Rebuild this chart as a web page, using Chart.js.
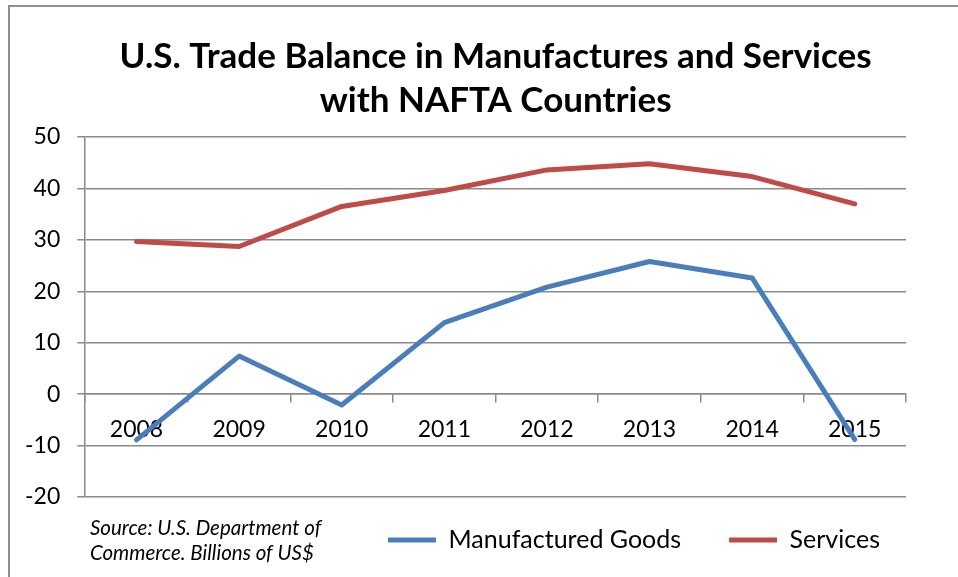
<!DOCTYPE html>
<html>
<head>
<meta charset="utf-8">
<script src="https://cdn.jsdelivr.net/npm/chart.js@4"></script>
<style>
  html, body { margin: 0; padding: 0; background: #fff; overflow: hidden; }
  #marco { position: absolute; left: 8px; top: 5px; width: 1200px; height: 800px;
           border-top: 2px solid #8f8f8f; border-left: 2px solid #8f8f8f; }
  #grafica { position: absolute; left: 0; top: 0; }
</style>
</head>
<body>
<div id="marco"></div>
<canvas id="grafica" width="958" height="577"></canvas>
<script>
// datos (miles de millones de US$)
const years = ['2008', '2009', '2010', '2011', '2012', '2013', '2014', '2015'];
const manufacturedGoods = [-8.9, 7.4, -2.1, 13.9, 20.8, 25.8, 22.6, -8.8];
const services = [29.7, 28.7, 36.5, 39.6, 43.6, 44.8, 42.3, 37.0];
const yTicks = [-20, -10, 0, 10, 20, 30, 40, 50];
const titleLines = ['U.S. Trade Balance in Manufactures and Services', 'with NAFTA Countries'];
const sourceLines = ['Source: U.S. Department of', 'Commerce. Billions of US$'];

const AZUL = '#4a7ebb';
const ROJO = '#be4b48';
const GRIS = '#8a8a8a';
const FUENTE = 'Lato';

// mueve la leyenda a su sitio (a la derecha de la nota de fuente)
const legendSpot = {
  id: 'legendSpot',
  afterLayout(chart) {
    const lg = chart.legend;
    const pad = lg.options.labels.padding;
    const half = lg.options.labels.font.size / 2;
    const dx = 388 - pad - lg.left;
    const dy = 540 - half - pad - lg.top;
    lg.left += dx; lg.right += dx;
    lg.top += dy; lg.bottom += dy;
  }
};

// nota de fuente abajo a la izquierda
const sourceNote = {
  id: 'sourceNote',
  afterDraw(chart) {
    const c = chart.ctx;
    c.save();
    c.font = 'italic 20.5px ' + FUENTE;
    c.fillStyle = '#000';
    c.textBaseline = 'middle';
    c.textAlign = 'left';
    sourceLines.forEach((t, i) => c.fillText(t, 90, 528 + i * 25));
    c.restore();
  }
};

function crearGrafica() {
  const ctx = document.getElementById('grafica').getContext('2d');
  const tickFont = { family: FUENTE, size: 23 };

  new Chart(ctx, {
    type: 'line',
    data: {
      labels: years,
      datasets: [{
        label: 'Manufactured Goods',
        data: manufacturedGoods,
        borderColor: AZUL,
        backgroundColor: AZUL,
        borderWidth: 5,
        pointRadius: 0,
        tension: 0,
        borderCapStyle: 'round',
        borderJoinStyle: 'round'
      }, {
        label: 'Services',
        data: services,
        borderColor: ROJO,
        backgroundColor: ROJO,
        borderWidth: 5,
        pointRadius: 0,
        tension: 0,
        borderCapStyle: 'round',
        borderJoinStyle: 'round'
      }]
    },
    options: {
      responsive: false,
      animation: false,
      devicePixelRatio: 1,
      layout: { padding: { left: 8, right: 52, top: 0, bottom: 0 } },
      plugins: {
        title: {
          display: true,
          fullSize: false,
          text: titleLines,
          color: '#000',
          font: { family: FUENTE, size: 35, weight: 'bold', lineHeight: 1.257 },
          padding: { top: 35, bottom: 14 }
        },
        legend: {
          position: 'bottom',
          align: 'start',
          maxHeight: 80,
          labels: {
            color: '#000',
            font: { family: FUENTE, size: 25 },
            usePointStyle: true,
            pointStyle: 'line',
            pointStyleWidth: 48,
            padding: 48
          }
        },
        tooltip: { enabled: false }
      },
      scales: {
        x: {
          position: { y: 0 },
          offset: true,
          afterFit: s => { s.height = 0; },
          grid: { offset: true, drawOnChartArea: false, tickLength: 8, color: GRIS, lineWidth: 1.5 },
          border: { color: GRIS, width: 1.5 },
          ticks: { color: '#000', font: tickFont, padding: 14, maxRotation: 0, autoSkip: false }
        },
        y: {
          min: -20,
          max: 50,
          afterBuildTicks: s => { s.ticks = yTicks.map(v => ({ value: v })); },
          grid: { color: GRIS, lineWidth: 1.5, tickLength: 8 },
          border: { color: GRIS, width: 1.5 },
          ticks: { color: '#000', font: tickFont, padding: 17 }
        }
      }
    },
    plugins: [legendSpot, sourceNote]
  });
}

Promise.all([
  document.fonts.load('bold 35px Lato'),
  document.fonts.load('italic 20px Lato'),
  document.fonts.load('23px Lato')
]).then(crearGrafica, crearGrafica);
</script>
</body>
</html>
